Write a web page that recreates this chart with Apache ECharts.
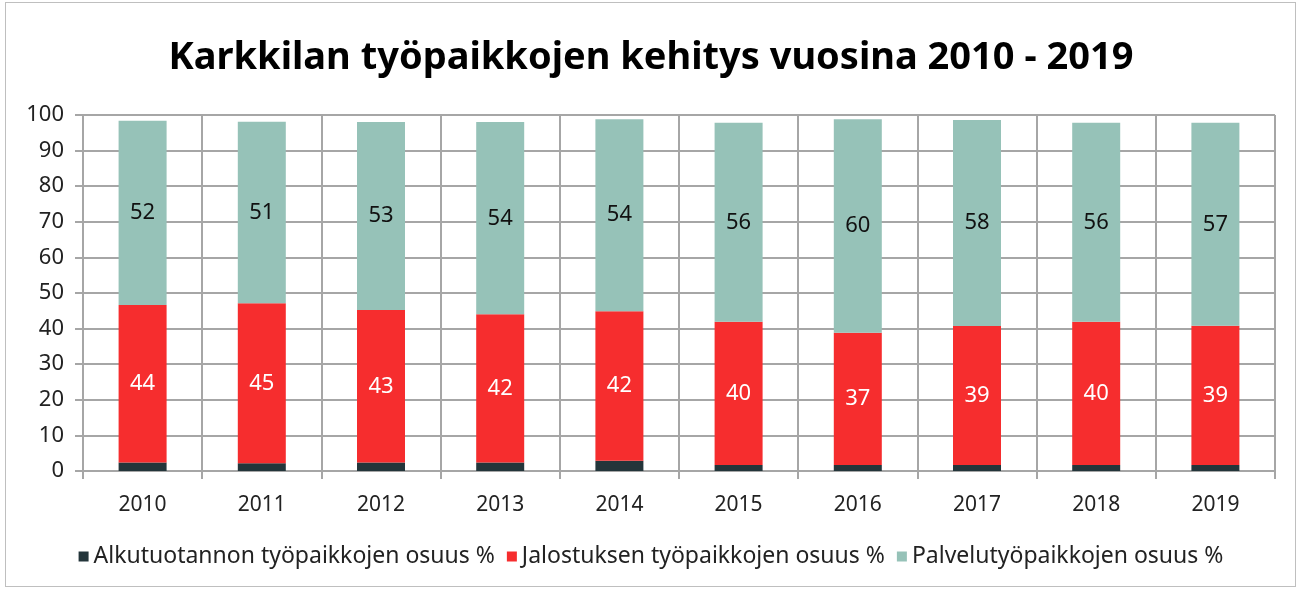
<!DOCTYPE html>
<html>
<head>
<meta charset="utf-8">
<script src="https://cdn.jsdelivr.net/npm/echarts@6/dist/echarts.min.js"></script>
<style>
  html, body { margin: 0; padding: 0; background: #fff; }
  #chart { position: absolute; left: 0; top: 0; width: 1302px; height: 591px; }
  #frame { position: absolute; left: 5px; top: 2px; width: 1291px; height: 585px; border: 1px solid #bfbfbf; box-sizing: border-box; pointer-events: none; }
</style>
</head>
<body>
<div id="chart"></div>
<div id="frame"></div>
<script>
// vuodet
var years = ["2010", "2011", "2012", "2013", "2014", "2015", "2016", "2017", "2018", "2019"];
// osuudet % (luettu kuvasta)
var alkutuotanto = [2.4, 2.2, 2.4, 2.4, 2.9, 1.7, 1.7, 1.7, 1.7, 1.7];
var jalostus = [44.2, 44.9, 42.8, 41.6, 42.0, 40.2, 37.1, 39.0, 40.2, 39.1];
var palvelu = [51.8, 51.0, 52.8, 54.0, 53.9, 55.9, 60.0, 57.9, 55.9, 57.0];
var yTicks = [0, 10, 20, 30, 40, 50, 60, 70, 80, 90, 100];

var font = "Noto Sans";
var gridColor = "#a6a6a6";

var myChart = echarts.init(document.getElementById("chart"));

function labelStyle(color) {
  return {
    show: true,
    position: "inside",
    color: color,
    fontFamily: font,
    fontSize: 22,
    formatter: function (p) { return Math.round(p.value); }
  };
}

var option = {
  animation: false,
  title: {
    text: "Karkkilan työpaikkojen kehitys vuosina 2010 - 2019",
    left: "center",
    top: 34,
    textStyle: { fontFamily: font, fontSize: 38, fontWeight: "bold", color: "#000" }
  },
  legend: {
    bottom: 18,
    left: "center",
    itemWidth: 10,
    itemHeight: 10,
    itemGap: 12,
    icon: "rect",
    textStyle: { fontFamily: font, fontSize: 23, color: "#222", padding: [0, 0, 0, 0] },
    data: ["Alkutuotannon työpaikkojen osuus %", "Jalostuksen työpaikkojen osuus %", "Palvelutyöpaikkojen osuus %"]
  },
  grid: { left: 83, right: 27, top: 115, bottom: 120, containLabel: false },
  xAxis: {
    type: "category",
    data: years,
    axisLine: { lineStyle: { color: gridColor, width: 2 } },
    axisTick: { show: true, length: 8, lineStyle: { color: gridColor, width: 2 } },
    splitLine: { show: true, lineStyle: { color: gridColor, width: 2 } },
    axisLabel: { fontFamily: font, fontSize: 21, color: "#222", margin: 24 }
  },
  yAxis: {
    type: "value",
    min: yTicks[0],
    max: yTicks[yTicks.length - 1],
    interval: 10,
    axisLine: { show: true, lineStyle: { color: gridColor, width: 2 } },
    axisTick: { show: true, length: 8, lineStyle: { color: gridColor, width: 2 } },
    splitLine: { show: true, lineStyle: { color: gridColor, width: 2 } },
    axisLabel: { fontFamily: font, fontSize: 22, color: "#222", margin: 19 }
  },
  series: [
    {
      name: "Alkutuotannon työpaikkojen osuus %",
      type: "bar",
      stack: "total",
      barWidth: 48,
      itemStyle: { color: "#23353a" },
      data: alkutuotanto
    },
    {
      name: "Jalostuksen työpaikkojen osuus %",
      type: "bar",
      stack: "total",
      barWidth: 48,
      itemStyle: { color: "#f62d2e" },
      label: labelStyle("#fff"),
      data: jalostus
    },
    {
      name: "Palvelutyöpaikkojen osuus %",
      type: "bar",
      stack: "total",
      barWidth: 48,
      itemStyle: { color: "#96c2b8" },
      label: labelStyle("#111"),
      data: palvelu
    }
  ]
};

myChart.setOption(option);
</script>
</body>
</html>
